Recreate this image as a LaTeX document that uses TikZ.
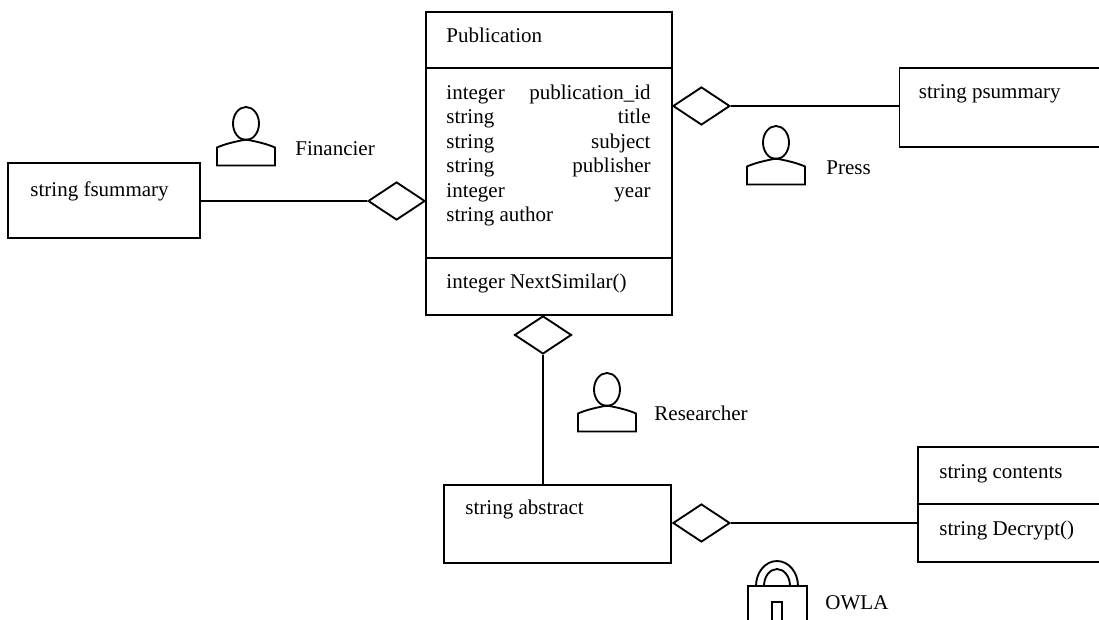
\documentclass[tikz,border=0pt]{standalone}
\usepackage{fontspec}
\setmainfont{Liberation Serif}
\usetikzlibrary{shapes.geometric}
\tikzset{every picture/.style={line width=1.4pt}}
\tikzset{
  classbox/.style={draw,rectangle,inner sep=0pt,minimum width=#1},
  linkdiamond/.style={draw,diamond,aspect=1.5,inner sep=0pt,minimum width=57pt*0.75,minimum height=38pt*0.75},
  label/.style={anchor=base west,inner sep=0pt,font=\fontsize{15.75pt}{18pt}\selectfont},
  rlabel/.style={anchor=base east,inner sep=0pt,font=\fontsize{15.75pt}{18pt}\selectfont},
  person/.pic={
    \draw (0,0) ellipse [x radius=13,y radius=16.5];
    \draw (-29,42) -- (-29,24) .. controls (-20,20) and (-10,18) .. (0,16) .. controls (10,18) and (20,20) .. (29,24) -- (29,42) -- cycle;
  },
}

\begin{document}
\begin{tikzpicture}[x=0.75pt,y=0.75pt,yscale=-1,xscale=1]
\useasboundingbox (0,0) rectangle (1099,619);

%Publication class
\draw (426,12) rectangle (672,315);
\draw (426,68) -- (672,68);
\draw (426,258) -- (672,258);
\coordinate (pubwest) at (426,201);
\coordinate (pubeast) at (672,106);
\coordinate (pubsouth) at (543,315);

%Summary and abstract boxes
\node [classbox=200*0.75pt,minimum height=79*0.75pt] (pressbox) at (999.5,107.5) {};
\node [classbox=192*0.75pt,minimum height=75*0.75pt] (finbox) at (104,200.5) {};
\node [classbox=227*0.75pt,minimum height=78*0.75pt] (absbox) at (557.5,524) {};
\draw (918,447) rectangle (1110,562);
\draw (918,504) -- (1110,504);
\coordinate (contwest) at (918,523);

%Diamonds
\node [linkdiamond,anchor=west] (pressdiamond) at (pubeast) {};
\node [linkdiamond,anchor=east] (findiamond) at (pubwest) {};
\node [linkdiamond,anchor=north] (resdiamond) at (pubsouth) {};
\node [linkdiamond,anchor=west] (absdiamond) at (672,523) {};

%Links
\draw (pressdiamond.east) -- (pressdiamond.east -| pressbox.west);
\draw (finbox.east |- findiamond.west) -- (findiamond.west);
\draw (resdiamond.south) -- (resdiamond.south |- absbox.north);
\draw (absdiamond.east) -- (contwest);

%Actors
\pic [transform shape] at (246,123.5) {person};
\pic [transform shape] at (776,142.5) {person};
\pic [transform shape] at (607,389.5) {person};

%Lock
\draw (748,586) rectangle (807,640);
\draw (756,586) arc [start angle=180,end angle=360,x radius=21,y radius=25];
\draw (764,586) arc [start angle=180,end angle=360,x radius=13,y radius=17];
\draw (772,640) -- (772,602) -- (782,602) -- (782,640);

%Labels
\node [label] (pubname) at (445.5,42) {Publication};
\node [label] (attra) at (445.5,99) {integer};
\node [rlabel] (attrb) at (651.5,99) {publication\_id};
\node [label] (attrc) at (445.5,123.5) {string};
\node [rlabel] (attrd) at (651.5,123.5) {title};
\node [label] (attre) at (445.5,148) {string};
\node [rlabel] (attrf) at (651.5,148) {subject};
\node [label] (attrg) at (445.5,172) {string};
\node [rlabel] (attrh) at (651.5,172) {publisher};
\node [label] (attri) at (445.5,197) {integer};
\node [rlabel] (attrj) at (651.5,197) {year};
\node [label] (attrk) at (445.5,221.5) {string author};
\node [label] (nextsim) at (445.5,288) {integer NextSimilar()};
\node [label] (psum) at (918,98) {string psummary};
\node [label] (fsum) at (29.5,196) {string fsummary};
\node [label] (abstr) at (464.5,514) {string abstract};
\node [label] (cont) at (938.5,478) {string contents};
\node [label] (decr) at (938.5,535) {string Decrypt()};
\node [label] (finlab) at (294.5,155) {Financier};
\node [label] (presslab) at (825.5,174) {Press};
\node [label] (reslab) at (653.5,420) {Researcher};
\node [label] (owla) at (824.5,609) {OWLA};

\end{tikzpicture}
\end{document}
